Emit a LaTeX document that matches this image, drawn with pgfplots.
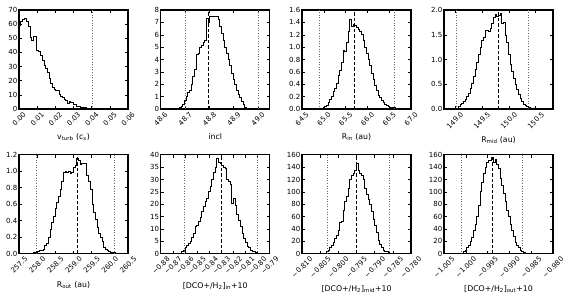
\documentclass[border=0pt]{standalone}
\usepackage{pgfplots}
\pgfplotsset{compat=1.18}
\usepackage{fontspec}
\setmainfont{DejaVu Sans}
\pgfplotsset{
  hp/.style={width=109pt, height=99pt, scale only axis, anchor=south west,
    tick align=inside, major tick length=3pt,
    every tick/.style={black, line width=0.5pt},
    axis line style={line width=1.2pt},
    ticklabel style={font=\fontsize{7}{8}\selectfont},
    label style={font=\fontsize{7.8}{9}\selectfont},
    yticklabel style={inner sep=1.5pt},
    xlabel style={inner sep=1pt, yshift=-4pt},
    ymin=0, scaled ticks=false},
  rot/.style={xticklabel style={xshift=#1, rotate=45, anchor=north east, inner sep=1.5pt}},
  hist/.style={const plot, black, line width=0.9pt, mark=none},
  dot/.style={black!60, dotted, line width=0.6pt},
  dsh/.style={black, line width=1pt, dash pattern=on 3.5pt off 2pt},
}
\begin{document}
\begin{tikzpicture}
\path[use as bounding box] (0,0) rectangle (572pt,301pt);

% Panel 1
\begin{axis}[hp, rot=3.7pt, at={(19pt,192pt)}, xmin=0, xmax=0.06, ymax=70,
  xtick={0,0.01,0.02,0.03,0.04,0.05,0.06},
  xticklabels={0.00,0.01,0.02,0.03,0.04,0.05,0.06},
  ytick={0,10,20,30,40,50,60,70}, yticklabels={0,10,20,30,40,50,60,70},
  xlabel={v\textsubscript{turb} (c\textsubscript{s})}]
\addplot[dot] coordinates {(0.0405,0) (0.0405,70)};
\addplot[hist] coordinates {
(0,0) (0,59) (0.00092,62) (0.00184,63.5) (0.00276,64) (0.00423,62) (0.00515,58.6)
(0.00607,50.6) (0.00699,48.7) (0.00791,51.5) (0.00939,41.6) (0.01067,40.4)
(0.01196,38) (0.01288,34.5) (0.01380,31) (0.01472,28.6) (0.01564,25.5)
(0.01656,21.5) (0.01748,18) (0.01840,15) (0.01932,13.7) (0.02024,12.8)
(0.02208,10) (0.02300,9.2) (0.02392,8) (0.02484,7) (0.02576,6) (0.02668,3.8)
(0.02760,5.4) (0.02853,4.3) (0.02999,3) (0.03184,1.9) (0.03368,1.4)
(0.03552,0.9) (0.03736,0.5) (0.04012,0.2) (0.04104,0)};
\end{axis}

% Panel 2
\begin{axis}[hp, rot=3.7pt, at={(160.7pt,192pt)}, xmin=48.6, xmax=49.048, ymax=8,
  xtick={48.6,48.7,48.8,48.9,49.0},
  xticklabels={48.6,48.7,48.8,48.9,49.0},
  ytick={0,1,2,3,4,5,6,7,8}, yticklabels={0,1,2,3,4,5,6,7,8},
  xlabel={incl}]
\addplot[dot] coordinates {(48.7,0) (48.7,8)};
\addplot[dot] coordinates {(49.0,0) (49.0,8)};
\addplot[dsh] coordinates {(48.798,0) (48.798,8)};
\addplot[hist] coordinates {
(48.6248,0) (48.6248,0.02) (48.6662,0.05) (48.6772,0.1) (48.6841,0.2) (48.6910,0.4)
(48.6979,0.7) (48.7048,1.0) (48.7117,1.3) (48.7186,1.5) (48.7255,2.0) (48.7324,2.6)
(48.7393,3.2) (48.7462,4.4) (48.7531,4.5) (48.7600,5.0) (48.7669,5.1) (48.7738,5.4)
(48.7807,5.5) (48.7876,7.3) (48.7945,7.0) (48.8014,7.45) (48.8083,7.5) (48.8152,7.5)
(48.8221,7.45) (48.8290,7.45) (48.8359,7.2) (48.8428,6.7) (48.8497,6.1) (48.8566,5.5)
(48.8634,5.0) (48.8703,4.5) (48.8772,4.0) (48.8841,3.5) (48.8910,2.9) (48.8979,2.4)
(48.9048,2.0) (48.9117,1.5) (48.9186,1.2) (48.9255,0.9) (48.9324,0.6) (48.9393,0.35)
(48.9462,0.15) (48.9531,0.05) (48.9903,0)};
\end{axis}

% Panel 3
\begin{axis}[hp, rot=3.7pt, at={(302pt,192pt)}, xmin=64.5, xmax=67.0, ymax=1.6,
  xtick={64.5,65.0,65.5,66.0,66.5,67.0},
  xticklabels={64.5,65.0,65.5,66.0,66.5,67.0},
  ytick={0,0.2,0.4,0.6,0.8,1.0,1.2,1.4,1.6},
  yticklabels={0.0,0.2,0.4,0.6,0.8,1.0,1.2,1.4,1.6},
  xlabel={R\textsubscript{in} (au)}]
\addplot[dot] coordinates {(64.899,0) (64.899,1.6)};
\addplot[dot] coordinates {(66.609,0) (66.609,1.6)};
\addplot[dsh] coordinates {(65.704,0) (65.704,1.6)};
\addplot[hist] coordinates {
(64.868,0) (64.868,0.005) (64.983,0.02) (65.021,0.04) (65.060,0.06) (65.098,0.10)
(65.137,0.15) (65.175,0.20) (65.213,0.28) (65.252,0.33) (65.290,0.42) (65.328,0.55)
(65.367,0.62) (65.405,0.75) (65.443,0.95) (65.482,0.93) (65.520,1.08) (65.558,1.26)
(65.597,1.45) (65.635,1.33) (65.673,1.36) (65.712,1.35) (65.750,1.31) (65.788,1.28)
(65.827,1.25) (65.865,1.20) (65.903,1.10) (65.942,1.00) (65.980,0.90) (66.018,0.80)
(66.057,0.70) (66.095,0.58) (66.133,0.48) (66.172,0.38) (66.210,0.30) (66.248,0.22)
(66.287,0.18) (66.325,0.14) (66.363,0.11) (66.402,0.08) (66.440,0.05) (66.479,0.04)
(66.517,0.03) (66.555,0.02) (66.632,0.01) (66.747,0.005) (66.785,0)};
\end{axis}

% Panel 4
\begin{axis}[hp, rot=5.3pt, at={(444pt,192pt)}, xmin=148.80, xmax=150.82, ymax=2.0,
  xtick={149.0,149.5,150.0,150.5},
  xticklabels={149.0,149.5,150.0,150.5},
  ytick={0,0.5,1.0,1.5,2.0}, yticklabels={0.0,0.5,1.0,1.5,2.0},
  xlabel={R\textsubscript{mid} (au)}]
\addplot[dot] coordinates {(149.029,0) (149.029,2)};
\addplot[dot] coordinates {(150.368,0) (150.368,2)};
\addplot[dsh] coordinates {(149.810,0) (149.810,2)};
\addplot[hist] coordinates {
(149.0045,0) (149.0045,0.02) (149.0664,0.05) (149.0974,0.10) (149.1284,0.12) (149.1594,0.15)
(149.1904,0.20) (149.2213,0.25) (149.2523,0.32) (149.2833,0.42) (149.3143,0.52) (149.3453,0.65)
(149.3763,0.80) (149.4072,0.95) (149.4382,1.10) (149.4692,1.25) (149.5002,1.38) (149.5312,1.45)
(149.5621,1.58) (149.5931,1.58) (149.6241,1.56) (149.6551,1.62) (149.6861,1.72) (149.7171,1.85)
(149.7480,1.92) (149.7790,1.86) (149.8100,1.90) (149.8410,1.93) (149.8720,1.72) (149.9029,1.75)
(149.9339,1.48) (149.9649,1.35) (149.9959,1.10) (150.0269,0.90) (150.0579,0.75) (150.0888,0.62)
(150.1198,0.50) (150.1508,0.40) (150.1818,0.30) (150.2128,0.22) (150.2437,0.15) (150.2747,0.10)
(150.3057,0.08) (150.3367,0.06) (150.3677,0.04) (150.3986,0.02) (150.4606,0)};
\end{axis}

% Panel 5
\begin{axis}[hp, rot=5.3pt, at={(19pt,47.3pt)}, xmin=257.5, xmax=260.5, ymax=1.2,
  xtick={257.5,258.0,258.5,259.0,259.5,260.0,260.5},
  xticklabels={257.5,258.0,258.5,259.0,259.5,260.0,260.5},
  ytick={0,0.2,0.4,0.6,0.8,1.0,1.2}, yticklabels={0.0,0.2,0.4,0.6,0.8,1.0,1.2},
  xlabel={R\textsubscript{out} (au)}]
\addplot[dot] coordinates {(257.98,0) (257.98,1.2)};
\addplot[dot] coordinates {(260.11,0) (260.11,1.2)};
\addplot[dsh] coordinates {(259.10,0) (259.10,1.2)};
\addplot[hist] coordinates {
(257.889,0) (257.889,0.01) (257.981,0.03) (258.074,0.04) (258.167,0.05) (258.213,0.10)
(258.259,0.12) (258.306,0.20) (258.352,0.30) (258.398,0.38) (258.444,0.45) (258.491,0.55)
(258.537,0.62) (258.583,0.70) (258.630,0.78) (258.676,0.88) (258.722,0.98) (258.769,1.00)
(258.815,0.98) (258.861,1.00) (258.907,0.97) (258.954,0.98) (259.000,1.05) (259.046,1.07)
(259.093,1.15) (259.139,1.13) (259.185,1.08) (259.231,1.10) (259.278,1.10) (259.324,1.10)
(259.370,0.95) (259.417,0.88) (259.463,0.78) (259.509,0.60) (259.556,0.50) (259.602,0.42)
(259.648,0.32) (259.694,0.25) (259.741,0.20) (259.787,0.15) (259.833,0.08) (259.880,0.05)
(259.926,0.04) (259.972,0.03) (260.019,0.02) (260.111,0.01) (260.157,0)};
\end{axis}

% Panel 6
\begin{axis}[hp, rot=5.8pt, at={(160.7pt,47.3pt)}, xmin=-0.88, xmax=-0.79, ymax=40,
  xtick={-0.88,-0.87,-0.86,-0.85,-0.84,-0.83,-0.82,-0.81,-0.80,-0.79},
  xticklabels={−0.88,−0.87,−0.86,−0.85,−0.84,−0.83,−0.82,−0.81,−0.80,−0.79},
  ytick={0,5,10,15,20,25,30,35,40}, yticklabels={0,5,10,15,20,25,30,35,40},
  xlabel={[DCO+/H\textsubscript{2}]\textsubscript{in}+10}]
\addplot[dot] coordinates {(-0.8604,0) (-0.8604,40)};
\addplot[dot] coordinates {(-0.8005,0) (-0.8005,40)};
\addplot[dsh] coordinates {(-0.8300,0) (-0.8300,40)};
\addplot[hist] coordinates {
(-0.86454,0) (-0.86454,0.3) (-0.86261,0.8) (-0.86123,1.5) (-0.85985,2.5) (-0.85847,3.5)
(-0.85709,4.2) (-0.85571,5.0) (-0.85433,6.5) (-0.85295,8.0) (-0.85156,11.0) (-0.85018,11.5)
(-0.84880,13.0) (-0.84742,14.5) (-0.84604,17.0) (-0.84466,19.0) (-0.84328,21.0) (-0.84190,22.5)
(-0.84052,25.0) (-0.83914,27.0) (-0.83776,30.0) (-0.83638,33.0) (-0.83500,35.0) (-0.83362,38.5)
(-0.83224,37.0) (-0.83086,36.5) (-0.82948,35.5) (-0.82810,35.0) (-0.82672,34.5) (-0.82534,30.0)
(-0.82396,29.0) (-0.82258,28.0) (-0.82120,20.5) (-0.81982,22.5) (-0.81844,19.5) (-0.81706,16.0)
(-0.81567,13.5) (-0.81429,11.0) (-0.81291,8.0) (-0.81153,6.0) (-0.81015,4.5) (-0.80877,3.0)
(-0.80739,2.5) (-0.80601,1.5) (-0.80463,1.0) (-0.80325,0.8) (-0.80187,0.5) (-0.80049,0.2)
(-0.79911,0)};
\end{axis}

% Panel 7
\begin{axis}[hp, rot=7.35pt, at={(302pt,47.3pt)}, xmin=-0.810, xmax=-0.780, ymax=160,
  xtick={-0.810,-0.805,-0.800,-0.795,-0.790,-0.785,-0.780},
  xticklabels={−0.810,−0.805,−0.800,−0.795,−0.790,−0.785,−0.780},
  ytick={0,20,40,60,80,100,120,140,160}, yticklabels={0,20,40,60,80,100,120,140,160},
  xlabel={[DCO+/H\textsubscript{2}]\textsubscript{mid}+10}]
\addplot[dot] coordinates {(-0.8030,0) (-0.8030,160)};
\addplot[dot] coordinates {(-0.7860,0) (-0.7860,160)};
\addplot[dsh] coordinates {(-0.7950,0) (-0.7950,160)};
\addplot[hist] coordinates {
(-0.80420,0) (-0.80420,1) (-0.80328,3) (-0.80282,5) (-0.80236,10) (-0.80190,13)
(-0.80144,18) (-0.80098,25) (-0.80052,30) (-0.80006,38) (-0.79960,50) (-0.79914,52)
(-0.79868,70) (-0.79822,85) (-0.79776,93) (-0.79730,106) (-0.79684,120) (-0.79638,127)
(-0.79592,130) (-0.79546,135) (-0.79500,146) (-0.79454,135) (-0.79408,130) (-0.79362,127)
(-0.79316,120) (-0.79270,105) (-0.79224,95) (-0.79178,88) (-0.79132,80) (-0.79086,68)
(-0.79040,55) (-0.78994,45) (-0.78948,35) (-0.78902,22) (-0.78856,15) (-0.78810,10)
(-0.78764,6) (-0.78718,4) (-0.78672,3) (-0.78626,2) (-0.78580,1) (-0.78534,0)};
\end{axis}

% Panel 8
\begin{axis}[hp, rot=7.35pt, at={(444pt,47.3pt)}, xmin=-1.005, xmax=-0.980, ymax=160,
  xtick={-1.005,-1.000,-0.995,-0.990,-0.985,-0.980},
  xticklabels={−1.005,−1.000,−0.995,−0.990,−0.985,−0.980},
  ytick={0,20,40,60,80,100,120,140,160}, yticklabels={0,20,40,60,80,100,120,140,160},
  xlabel={[DCO+/H\textsubscript{2}]\textsubscript{out}+10}]
\addplot[dot] coordinates {(-1.00109,0) (-1.00109,160)};
\addplot[dot] coordinates {(-0.98698,0) (-0.98698,160)};
\addplot[dsh] coordinates {(-0.99396,0) (-0.99396,160)};
\addplot[hist] coordinates {
(-1.00132,0) (-1.00132,1) (-1.00055,3) (-1.00017,5) (-0.99979,10) (-0.99940,13)
(-0.99902,20) (-0.99863,27) (-0.99825,38) (-0.99787,47) (-0.99748,60) (-0.99710,78)
(-0.99672,100) (-0.99633,115) (-0.99595,130) (-0.99557,140) (-0.99518,148) (-0.99480,150)
(-0.99442,150) (-0.99403,155) (-0.99365,148) (-0.99327,152) (-0.99288,145) (-0.99250,137)
(-0.99212,122) (-0.99173,110) (-0.99135,97) (-0.99097,85) (-0.99058,70) (-0.99020,60)
(-0.98982,48) (-0.98943,38) (-0.98905,28) (-0.98867,18) (-0.98828,14) (-0.98790,10)
(-0.98752,6) (-0.98713,3) (-0.98675,1.5) (-0.98636,0)};
\end{axis}
\end{tikzpicture}
\end{document}
